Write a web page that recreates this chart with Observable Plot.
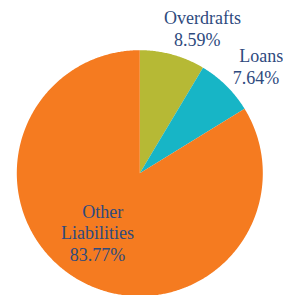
<!DOCTYPE html>
<html>
<head>
<meta charset="utf-8">
<script src="https://cdn.jsdelivr.net/npm/d3@7"></script>
<script src="https://cdn.jsdelivr.net/npm/@observablehq/plot@0.6"></script>
<style>
  html, body { margin: 0; padding: 0; background: white; overflow: hidden; }
</style>
</head>
<body>
<div id="chart"></div>
<script>
// ---- data ----
const categories = ["Overdrafts", "Loans", "Other Liabilities"];
const values = [8.59, 7.64, 83.77];
const valueLabels = ["8.59%", "7.64%", "83.77%"];

// ---- layout / style ----
const colors = ["#b6b935", "#17b5c6", "#f57b20"];
const textColor = "#2e4a7e";
const W = 283, H = 295;
const cx = 139.3, cy = 172.7, R = 123;
const fontSize = 18, lineStep = 21.5;
// label anchor offsets from pie centre (px): centre x of lower lines, baseline of last line
const labelLayout = {
  "Overdrafts": {dx: 57.4, dy: -127.7, lines: ["Overdrafts"]},
  "Loans": {dx: 116.2, dy: -89.4, lines: ["Loans"]},
  "Other Liabilities": {dx: -42.3, dy: 87.3, lines: ["Other", "Liabilities"]}
};
const firstLineShift = 5.3;

// ---- slices ----
const pie = d3.pie().sort(null).value(d => d.value);
const arcs = pie(categories.map((name, i) => ({name, value: values[i]})));
const slicePts = [];
for (const a of arcs) {
  const name = a.data.name;
  slicePts.push({name, x: 0, y: 0});
  const n = Math.max(2, Math.ceil((a.endAngle - a.startAngle) / (Math.PI / 360)));
  for (let k = 0; k <= n; k++) {
    const t = a.startAngle + (a.endAngle - a.startAngle) * k / n;
    slicePts.push({name, x: Math.sin(t), y: Math.cos(t)});
  }
  slicePts.push({name, x: 0, y: 0});
}

// ---- label lines ----
const labelRows = [];
categories.forEach((name, i) => {
  const L = labelLayout[name];
  const lines = [...L.lines, valueLabels[i]];
  const n = lines.length;
  lines.forEach((txt, j) => {
    const px = L.dx + (j === 0 ? firstLineShift : 0);
    const py = L.dy - (n - 1 - j) * lineStep;
    labelRows.push({text: txt, x: px / R, y: -py / R});
  });
});

const chart = Plot.plot({
  width: W,
  height: H,
  margin: 0,
  x: {domain: [-1, 1], range: [cx - R, cx + R], axis: null},
  y: {domain: [-1, 1], range: [cy + R, cy - R], axis: null},
  color: {domain: categories, range: colors},
  style: {background: "white", overflow: "hidden"},
  marks: [
    Plot.line(slicePts, {x: "x", y: "y", z: "name", fill: "name", stroke: "none", curve: "linear"}),
    Plot.text(labelRows, {
      x: "x", y: "y", text: "text",
      fill: textColor, fontSize: fontSize,
      fontFamily: "Liberation Serif",
      textAnchor: "middle", lineAnchor: "bottom"
    })
  ]
});
document.getElementById("chart").appendChild(chart);
</script>
</body>
</html>
